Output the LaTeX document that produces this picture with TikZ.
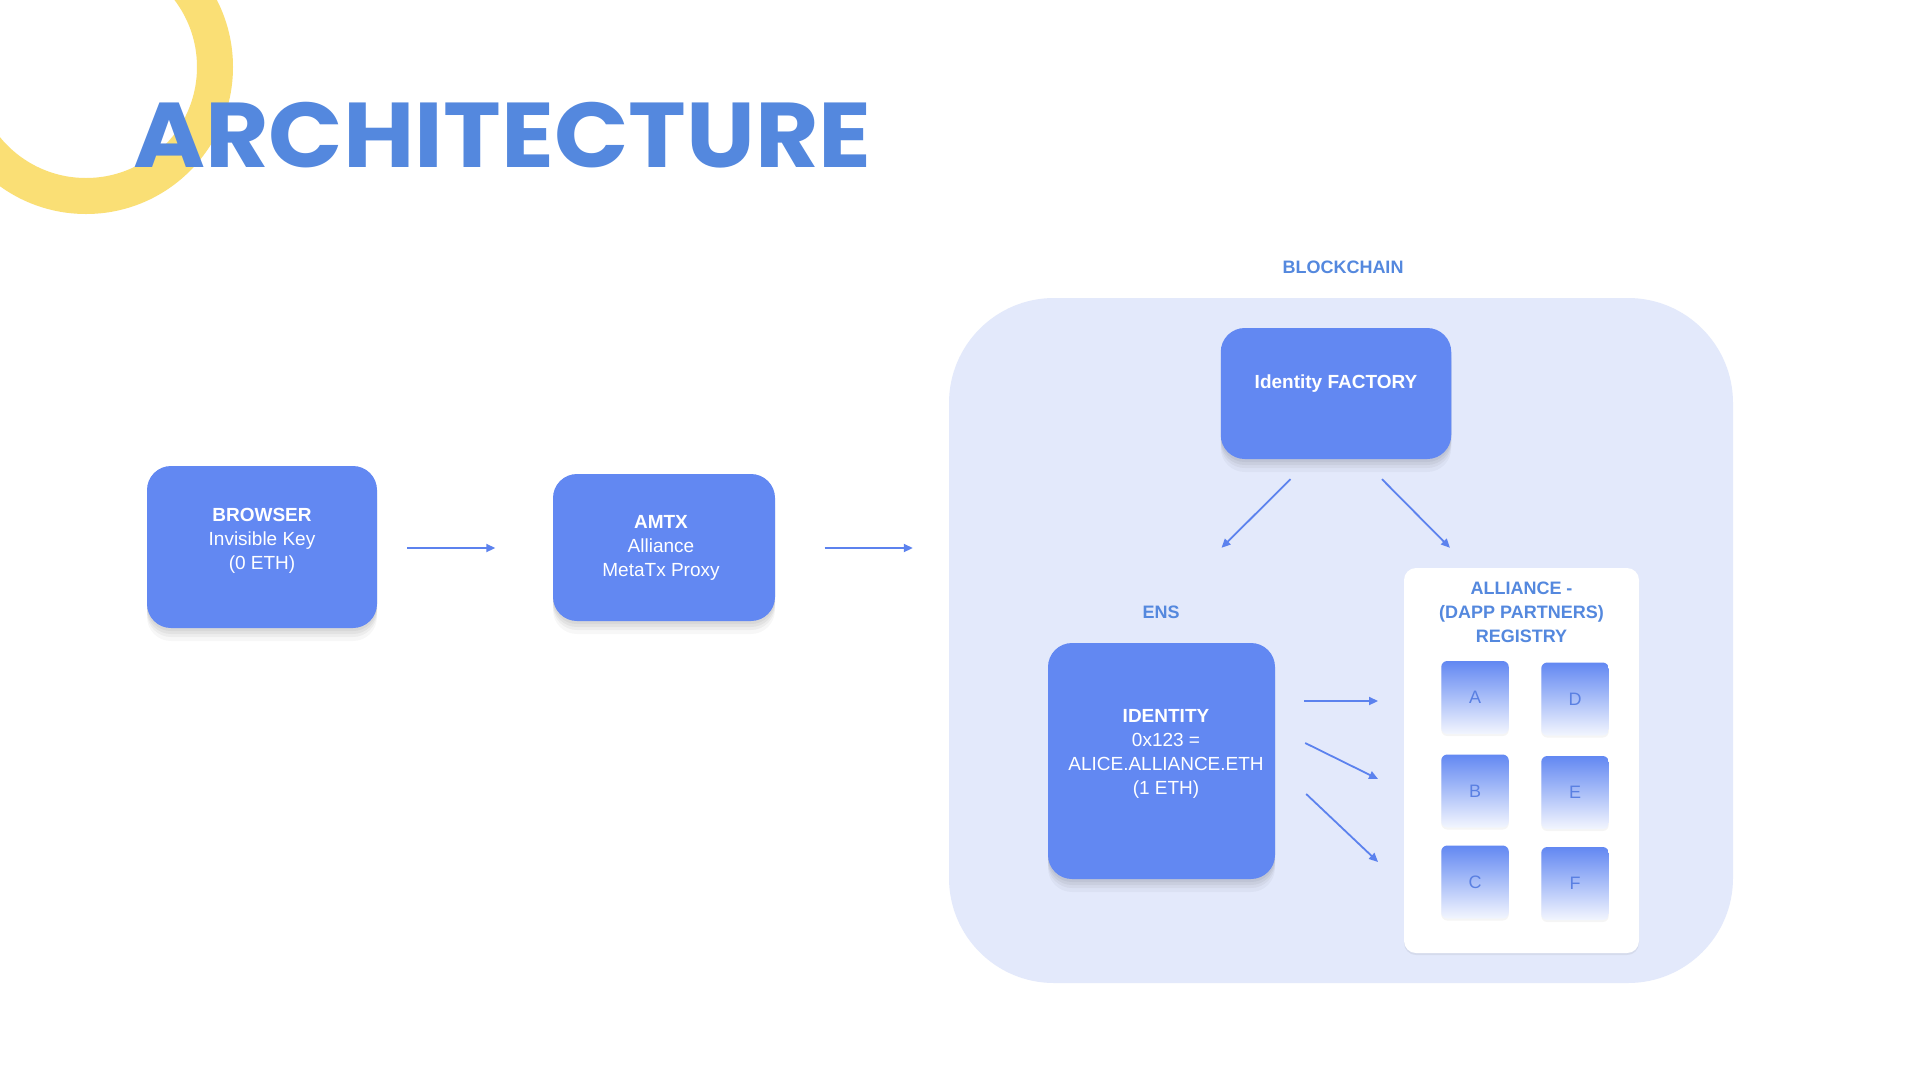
\documentclass[tikz,border=0pt]{standalone}
\usepackage{fontspec}
\setmainfont{Liberation Sans}
\newfontfamily\titlefont{Poppins}
\usepackage{xcolor}
\usepackage{tikz}
\usetikzlibrary{arrows.meta,calc,positioning,shadows}

\definecolor{cardblue}{RGB}{98,136,242}
\definecolor{chainbg}{RGB}{227,233,251}
\definecolor{inkblue}{RGB}{84,136,222}
\definecolor{arrowblue}{RGB}{92,130,238}
\definecolor{ringyellow}{RGB}{250,223,117}
\definecolor{letterblue}{RGB}{90,128,226}

\tikzset{
  softshadow/.style={
    drop shadow={shadow xshift=0pt, shadow yshift=-3pt, fill=black, opacity=.045},
    drop shadow={shadow xshift=0pt, shadow yshift=-6pt, fill=black, opacity=.045},
    drop shadow={shadow xshift=0pt, shadow yshift=-9pt, fill=black, opacity=.04},
    drop shadow={shadow xshift=0pt, shadow yshift=-13pt, fill=black, opacity=.03}},
  card/.style={fill=cardblue, rounded corners=24, inner sep=0, softshadow},
  cardtext/.style={text=white, align=center, inner sep=0, font=\fontsize{19}{24}\selectfont},
  tag/.style={text=inkblue, align=center, inner sep=0, font=\bfseries\fontsize{18}{24}\selectfont},
  tile/.style={minimum width=67.5, minimum height=73, rounded corners=6, inner sep=0,
    top color=cardblue, bottom color=white!92!cardblue, text=letterblue,
    font=\fontsize{18}{22}\selectfont,
    drop shadow={shadow xshift=0pt, shadow yshift=-2pt, fill=black, opacity=.04}},
  flow/.style={-{Triangle[length=9pt,width=8pt]}, line width=1.8pt, draw=arrowblue},
}

\begin{document}
\begin{tikzpicture}[x=1pt,y=-1pt]
    \useasboundingbox (0,0) rectangle (1920,1080);
    \fill[white] (0,0) rectangle (1920,1080);
    \begin{scope}
        \clip (0,0) rectangle (1920,1080);
        \draw[ringyellow, line width=36pt] (86,67) circle[radius=129pt];
    \end{scope}
    \node[anchor=base west, inner sep=0, text=inkblue, font=\titlefont\bfseries\fontsize{92}{92}\selectfont] (title) at (133,167) {\scalebox{1.062}[1]{ARCHITECTURE}};

    % blockchain area
    \node[fill=chainbg, rounded corners=105, minimum width=784, minimum height=685, inner sep=0] (chain) at (1341,640.5) {};
    \node[tag] (chainlabel) at (1343,267) {BLOCKCHAIN};
    \node[tag] (enslabel) at (1161,612) {ENS};

    % registry with the partner tiles
    \node[fill=white, rounded corners=12, minimum width=235, minimum height=385, inner sep=0,
      drop shadow={shadow xshift=0pt, shadow yshift=-2pt, fill=black, opacity=.06}] (registry) at (1521.5,760.5) {};
    \node[tag] (registrytitle) at (1521.5,612) {ALLIANCE -\\(DAPP PARTNERS)\\REGISTRY};
    \foreach \n/\x/\y in {A/1475/697.5, B/1475/791, C/1475/882, D/1575/699, E/1575/792.5, F/1575/883.5}
        \node[tile] (tile\n) at (\x,\y) {\n};

    % cards
    \node[card, minimum width=230, minimum height=162] (browser) at (262,547) {};
    \node[cardtext] (browsertext) at ($(browser)+(0,-6)$) {\textbf{BROWSER}\\Invisible Key\\(0 ETH)};
    \node[card, minimum width=222, minimum height=147] (amtx) at (664,547.5) {};
    \node[cardtext] (amtxtext) at ($(amtx)+(-3,0)$) {\textbf{AMTX}\\Alliance\\MetaTx Proxy};
    \node[card, minimum width=230.5, minimum height=131] (factory) at (1336,393.5) {};
    \node[cardtext] (factorytext) at ($(factory)+(0,-10)$) {\textbf{Identity FACTORY}};
    \node[card, minimum width=227, minimum height=236] (identity) at (1161.5,761) {};
    \node[cardtext] (identitytext) at ($(identity)+(4.5,-7)$) {\textbf{IDENTITY}\\0x123 =\\ALICE.ALLIANCE.ETH\\(1 ETH)};

    % arrows
    \draw[flow] ($(browser.east)+(30,1)$) -- ($(amtx.west)+(-57.5,0.5)$);
    \draw[flow] ($(amtx.east)+(49.5,0.5)$) -- ($(chain.west)+(-36,-92.5)$);
    \draw[flow] ($(factory.south)+(-45.5,20)$) -- ($(identity.north)+(60,-95)$);
    \draw[flow] ($(factory.south)+(46,20)$) -- ($(registry.north)+(-71.5,-20)$);
    \draw[flow] ($(identity.east)+(29,-60)$) -- ($(tileA.west)+(-63,3.5)$);
    \draw[flow] ($(identity.east)+(30,-18)$) -- ($(tileB.west)+(-63,-12)$);
    \draw[flow] ($(identity.east)+(31,33)$) -- ($(tileC.west)+(-63,-20)$);
\end{tikzpicture}
\end{document}
